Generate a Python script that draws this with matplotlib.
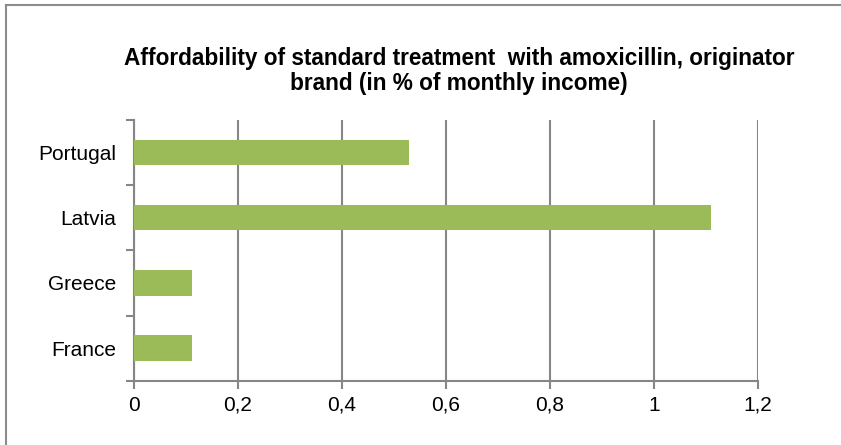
import matplotlib.pyplot as plt
from matplotlib.lines import Line2D
from matplotlib.ticker import FuncFormatter

countries = ["France", "Greece", "Latvia", "Portugal"]
values = [0.111, 0.111, 1.111, 0.530]
xticks = [0, 0.2, 0.4, 0.6, 0.8, 1.0, 1.2]

plt.rcParams["font.family"] = ["Liberation Sans", "DejaVu Sans"]

fig = plt.figure(figsize=(8.41, 4.45), dpi=100)
ax = fig.add_axes([134 / 841, 1 - 380.7 / 445, (757.7 - 134) / 841, (380.7 - 120) / 445])

grid_c = "#868686"
ax.barh(range(len(countries)), values, height=0.39, color="#9BBB59", zorder=3)

ax.set_xlim(0, 1.2)
ax.set_ylim(-0.5, len(countries) - 0.5)
ax.set_xticks(xticks)
ax.xaxis.set_major_formatter(FuncFormatter(lambda v, p: f"{v:g}".replace(".", ",")))
ax.set_yticks(range(len(countries)))
ax.set_yticklabels(countries)
ax.set_yticks([i - 0.5 for i in range(len(countries) + 1)], minor=True)
ax.tick_params(axis="y", which="major", length=0, pad=13, labelsize=15)
ax.tick_params(axis="y", which="minor", length=6, width=1.5, color=grid_c)
ax.tick_params(axis="x", length=6, width=1.5, color=grid_c, labelsize=15, pad=5)

ax.grid(axis="x", color=grid_c, linewidth=1.5, zorder=0)
for side in ["top", "right"]:
    ax.spines[side].set_visible(False)
for side in ["left", "bottom"]:
    ax.spines[side].set_color(grid_c)
    ax.spines[side].set_linewidth(1.5)

fig.text(459 / 841, 1 - 71 / 445,
         "Affordability of standard treatment  with amoxicillin, originator\nbrand (in % of monthly income)",
         ha="center", va="center", fontsize=16.3, fontweight="bold", linespacing=1.12)

# chart frame (only left and top edges show in the picture)
fig.add_artist(Line2D([6 / 841, 6 / 841], [0, 1 - 5 / 445], color="#8c8c8c", linewidth=1.5))
fig.add_artist(Line2D([6 / 841, 1], [1 - 5 / 445, 1 - 5 / 445], color="#8c8c8c", linewidth=1.5))

fig.savefig("out.png", dpi=100)
